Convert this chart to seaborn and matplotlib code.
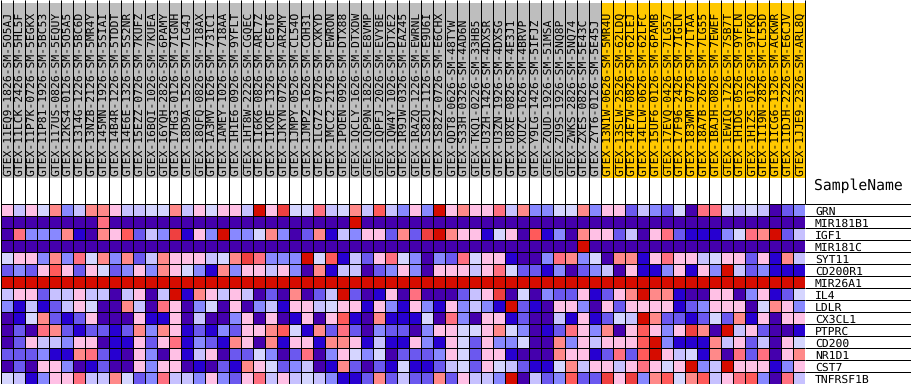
import matplotlib
matplotlib.use("Agg")
import matplotlib.pyplot as plt
from matplotlib.colors import ListedColormap
import numpy as np
import pandas as pd
import seaborn as sns

# GSEA style colour levels, 0 = lowest, 11 = highest
level_colors = ["#4500AD", "#2700D1", "#6B58EF", "#8888FF", "#C7C1FF", "#D5D5FF",
                "#FFC0E5", "#FF8989", "#FF7080", "#FF5A5A", "#EF4040", "#D60C00"]

samples_a = ["GTEX-11EQ9-1826-SM-5O5AJ", "GTEX-11LCK-2426-SM-5HL5F", "GTEX-11P7K-0726-SM-5EGKX",
             "GTEX-11P81-1926-SM-5BC53", "GTEX-117US-0826-SM-5EQUY", "GTEX-12KS4-0126-SM-5O5A5",
             "GTEX-1314G-1226-SM-5BC6D", "GTEX-13NZB-2126-SM-5MR4Y", "GTEX-145MN-1926-SM-5SIAI",
             "GTEX-14B4R-1226-SM-5TDDT", "GTEX-14E6E-1326-SM-5S2NR", "GTEX-15EZZ-0726-SM-7KUFZ",
             "GTEX-16BQI-1026-SM-7KUEA", "GTEX-16YQH-2826-SM-6PAMY", "GTEX-17HG3-0126-SM-7IGNH",
             "GTEX-18D9A-1526-SM-7LG4J", "GTEX-18QFQ-0826-SM-718AX", "GTEX-1A3MV-1626-SM-731C1",
             "GTEX-1AMEY-1026-SM-718AA", "GTEX-1H1E6-0926-SM-9YFLT", "GTEX-1HT8W-2226-SM-CGQEC",
             "GTEX-1I6K6-0826-SM-ARL7Z", "GTEX-1IKOE-1326-SM-CE6T6", "GTEX-1JKYN-0726-SM-ARZMY",
             "GTEX-1JMPY-0526-SM-CL54O", "GTEX-1JMPZ-1626-SM-COH31", "GTEX-1LG7Z-0726-SM-CXKYD",
             "GTEX-1MCC2-2126-SM-EWRON", "GTEX-1POEN-0926-SM-DTX88", "GTEX-1QCLY-1626-SM-DTXDW",
             "GTEX-1QP9N-1826-SM-E8VMP", "GTEX-1QPFJ-2026-SM-EVYBE", "GTEX-1QW4Y-1026-SM-DTXE2",
             "GTEX-1R9JW-0326-SM-EAZ45", "GTEX-1RAZQ-1226-SM-EWRNL", "GTEX-1S82U-1126-SM-E9U6I",
             "GTEX-1S82Z-0726-SM-E6CHX", "GTEX-QDT8-0626-SM-48TYW", "GTEX-S33H-0326-SM-4AD6N",
             "GTEX-TKQ1-0226-SM-33HB5", "GTEX-U3ZH-1426-SM-4DXSR", "GTEX-U3ZN-1926-SM-4DXSG",
             "GTEX-U8XE-0826-SM-4E3J1", "GTEX-XUZC-1626-SM-4BRVP", "GTEX-Y9LG-1426-SM-5IFJZ",
             "GTEX-ZQUD-1926-SM-51MSA", "GTEX-ZU9S-1926-SM-5NQ8P", "GTEX-ZWKS-2826-SM-5NQ74",
             "GTEX-ZXES-0826-SM-5E43C", "GTEX-ZYT6-0126-SM-5E45J"]
samples_b = ["GTEX-13N1W-0626-SM-5MR4U", "GTEX-13SLW-2526-SM-62LDQ", "GTEX-14E7W-0826-SM-62LEJ",
             "GTEX-14LLW-0626-SM-62LFC", "GTEX-15UF6-0126-SM-6PAMB", "GTEX-17EVQ-0426-SM-7LG57",
             "GTEX-17F96-2426-SM-7IGLN", "GTEX-183WM-0726-SM-7LTAA", "GTEX-18A7B-2626-SM-7LG55",
             "GTEX-1BAJH-0826-SM-7EWEF", "GTEX-1EWIQ-1726-SM-7SB7T", "GTEX-1H1DG-0526-SM-9YFLN",
             "GTEX-1H1ZS-0126-SM-9YFKQ", "GTEX-1I19N-2826-SM-CL55D", "GTEX-1ICG6-1326-SM-ACKWR",
             "GTEX-1IDJH-2226-SM-E6CJV", "GTEX-1JJE9-2326-SM-ARL8Q"]

genes = ["GRN", "MIR181B1", "IGF1", "MIR181C", "SYT11", "CD200R1", "MIR26A1", "IL4",
         "LDLR", "CX3CL1", "PTPRC", "CD200", "NR1D1", "CST7", "TNFRSF1B"]

GRN = [6,4,6,5,7,3,4,7,7,6,4,4,5,5,7,4,6,5,6,6,4,11,6,
       10,5,5,8,4,5,7,4,9,4,3,6,3,11,6,7,6,6,8,4,7,3,
       3,5,5,7,3,6,6,2,4,3,2,5,0,8,8,5,4,5,4,0,2,3]
MIR181B1 = [0,0,0,0,0,0,0,0,8,0,0,0,0,0,0,0,0,0,0,0,0,0,0,
            0,0,0,0,0,0,11,0,0,0,0,0,0,0,0,0,0,0,0,0,0,0,
            0,0,0,0,0,0,0,0,0,0,0,0,0,0,0,0,0,0,0,0,0,0]
IGF1 = [0,8,3,3,3,7,1,0,7,6,9,2,4,3,10,1,6,3,11,3,3,5,7,
        3,0,2,7,1,4,3,6,6,2,7,2,10,11,7,6,6,1,5,6,0,9,
        1,3,0,7,6,6,2,4,0,6,8,2,1,1,1,3,5,8,7,11,2,4]
MIR181C = [0,0,0,0,0,0,0,0,0,0,0,0,0,0,0,0,0,0,0,0,0,0,0,
           0,0,0,0,0,0,0,0,0,0,0,0,0,0,0,0,0,0,0,0,0,0,
           0,0,0,11,0,0,0,0,0,0,0,0,0,0,0,0,0,0,0,0,0,0]
SYT11 = [5,6,6,3,7,3,8,5,7,3,7,2,4,7,6,6,6,4,5,7,10,8,3,
         3,3,11,5,9,1,4,2,6,8,5,3,0,3,2,8,5,6,6,1,0,0,
         3,8,7,3,5,0,7,7,1,6,8,6,6,4,5,6,6,2,6,1,7,4]
CD200R1 = [2,3,2,6,9,6,2,6,5,2,3,6,3,7,6,5,3,1,7,3,6,6,4,
           6,3,0,7,1,4,4,0,2,3,6,3,0,6,6,6,4,6,8,5,2,2,
           1,3,0,2,3,4,0,6,1,1,3,6,1,6,3,11,4,2,3,1,1,1]
MIR26A1 = [11] * 67
IL4 = [4,6,6,2,4,4,6,4,4,0,4,6,0,4,11,1,7,6,4,6,4,0,2,
       0,7,0,2,4,11,2,0,1,6,0,8,0,0,0,2,4,6,10,0,5,0,
       3,2,2,6,1,2,6,7,11,7,7,1,0,0,6,6,0,3,6,1,2,5]
LDLR = [3,1,4,1,2,4,6,5,0,0,7,4,0,8,6,0,3,5,0,6,0,3,4,
        1,6,6,4,5,6,6,1,6,3,1,6,3,1,6,3,4,3,1,11,2,1,
        0,6,6,3,0,6,2,6,6,6,6,1,2,3,6,6,6,0,5,7,6,3]
CX3CL1 = [0,1,5,7,2,1,2,6,0,0,0,6,1,1,6,0,4,0,0,3,6,0,6,
          0,1,6,0,6,9,1,0,7,1,1,1,5,0,8,3,0,6,6,1,2,0,
          0,4,1,6,1,2,5,4,11,7,2,2,1,2,5,2,7,1,6,0,6,6]
PTPRC = [0,2,0,8,7,2,1,2,2,1,2,7,3,7,6,1,2,1,3,2,6,6,7,
         9,5,1,7,2,8,2,0,3,2,2,0,3,6,6,5,5,6,7,5,3,0,
         1,2,8,6,3,7,0,6,9,6,3,6,10,7,0,11,4,6,2,0,0,1]
CD200 = [0,2,6,4,4,3,6,6,0,1,1,6,2,6,8,1,3,2,1,7,6,0,7,
         1,6,6,1,7,7,6,1,4,1,1,6,3,1,6,5,2,6,3,3,5,0,
         0,7,3,6,4,6,6,6,9,11,3,1,1,1,7,4,6,2,4,0,6,5]
NR1D1 = [2,2,2,3,1,1,7,8,2,1,0,6,3,0,6,1,4,6,0,2,2,5,3,
         0,2,8,0,3,6,5,3,5,0,2,2,2,3,6,5,2,6,6,1,0,0,
         0,7,6,6,1,2,8,2,9,11,6,4,5,1,7,0,8,2,8,0,6,7]
CST7 = [0,2,0,6,6,3,0,1,2,0,0,6,3,6,6,0,1,0,2,1,7,6,5,
        2,3,4,0,1,7,2,0,2,1,5,1,1,2,4,5,2,6,5,4,2,1,
        1,5,7,4,6,6,4,6,8,6,5,6,11,3,4,11,6,6,6,1,3,6]
TNFRSF1B = [5,4,1,3,6,6,8,4,4,7,5,2,3,8,4,4,3,6,3,2,6,8,4,
            6,4,5,4,3,1,1,2,7,2,4,2,2,7,2,6,4,4,3,11,0,4,
            2,3,9,2,2,10,6,10,3,7,9,5,7,9,4,6,8,9,3,0,8,4]

samples = samples_a + samples_b
matrix = pd.DataFrame([GRN, MIR181B1, IGF1, MIR181C, SYT11, CD200R1, MIR26A1, IL4, LDLR,
                       CX3CL1, PTPRC, CD200, NR1D1, CST7, TNFRSF1B], index=genes, columns=samples)
n_rows, n_cols = matrix.shape

W, H = 911, 384
LINE = 0.72  # one pixel at dpi 100
sns.set_style("white")
plt.rcParams["font.family"] = ["DejaVu Sans Mono"]
plt.rcParams["text.hinting"] = "no_hinting"
fig = plt.figure(figsize=(W / 100, H / 100), dpi=100)


def px_axes(x0, y0, x1, y1):
    # pixel box measured from the top left of the picture
    return fig.add_axes([x0 / W, (H - y1) / H, (x1 - x0) / W, (y1 - y0) / H])


# main heatmap, grid comes from the mesh edges
ax = px_axes(0.5, 203.5, 804.5, 383.5)
sns.heatmap(matrix, ax=ax, cmap=ListedColormap(level_colors), vmin=0, vmax=11, cbar=False,
            linewidths=LINE, linecolor="black", xticklabels=False, yticklabels=False)
ax.set_xlabel("")
ax.set_ylabel("")

# sample class strip
groups = pd.DataFrame([[0] * len(samples_a) + [1] * len(samples_b)], columns=samples)
ax_strip = px_axes(0.5, 3, 804.5, 178)
sns.heatmap(groups, ax=ax_strip, cmap=ListedColormap(["#BEBEBE", "#FFC800"]), vmin=0, vmax=1,
            cbar=False, xticklabels=False, yticklabels=False)
ax_strip.set_xlabel("")
ax_strip.set_ylabel("")

# separators and sample names above the heatmap
ax_head = px_axes(0.5, 0, 804.5, 203.5)
ax_head.set_xlim(0, n_cols)
ax_head.set_ylim(203.5, 0)
ax_head.axis("off")
ax_head.vlines(np.arange(n_cols + 1), 0, 203.5, color="black", lw=LINE, clip_on=False)
for i, name in enumerate(samples):
    ax_head.text(i + 0.58, 176.5, name, rotation=90, ha="center", va="bottom",
                 fontsize=8.2, color="black")

# gene labels on the right
ax_lab = px_axes(804.5, 203.5, 911, 383.5)
ax_lab.set_xlim(0, 106.5)
ax_lab.set_ylim(n_rows, 0)
ax_lab.axis("off")
ax_lab.hlines(np.arange(n_rows + 1), 0, 106.5, color="black", lw=LINE, clip_on=False)
for i, gene in enumerate(genes):
    ax_lab.text(10.5, i + 0.95, gene, ha="left", va="baseline", fontsize=8.2, color="black")
ax_lab.text(9.5, -1.5, "SampleName", ha="left", va="center", fontsize=10.6, color="black")

fig.savefig("out.png", dpi=100)
